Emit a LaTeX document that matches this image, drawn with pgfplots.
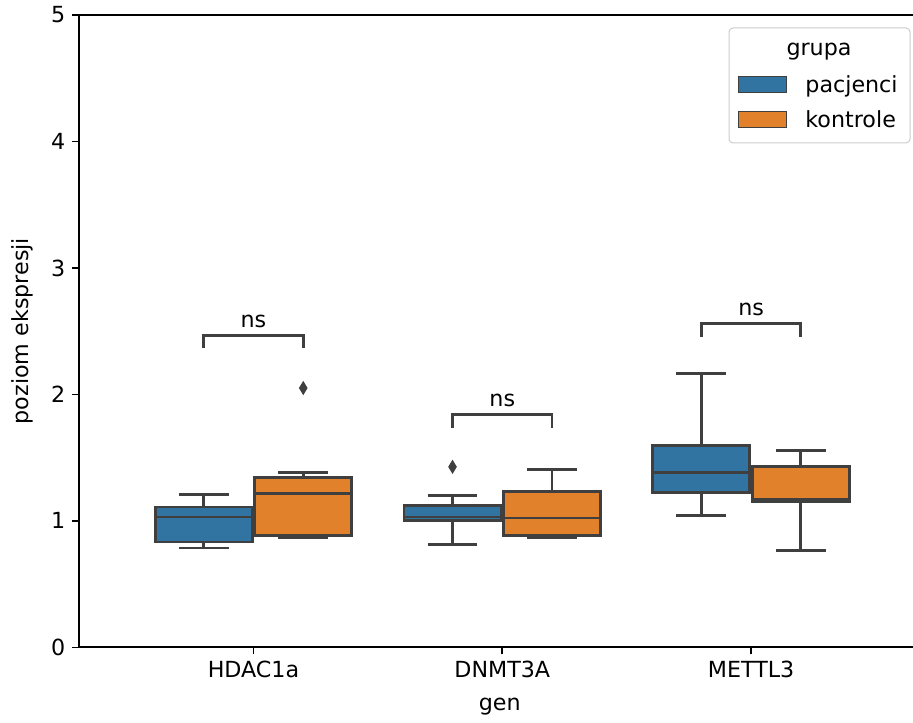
\documentclass[border=0pt]{standalone}
\usepackage{fontspec}
\setmainfont{DejaVu Sans}
\usepackage{pgfplots}
\pgfplotsset{compat=1.18}
\usepgfplotslibrary{statistics}
\definecolor{sbblue}{RGB}{50,116,161}
\definecolor{sborange}{RGB}{225,129,44}
\definecolor{edge}{RGB}{63,63,63}
\definecolor{leggray}{RGB}{204,204,204}
\pgfplotsset{
  bx/.style={
    boxplot/draw direction=y,
    boxplot/box extend=0.39,
    boxplot/whisker extend=0.2,
    draw=edge, line width=1.4pt,
    mark=diamond*, mark size=3.1pt,
    mark options={draw=edge, fill=edge, xscale=0.8, line width=0.5pt},
  },
}
\begin{document}
\begin{tikzpicture}[font=\fontsize{11.1pt}{13pt}\selectfont]
\path[use as bounding box] (-39.65pt,-37.35pt) rectangle (416.85pt,323.65pt);
\begin{axis}[
  at={(0,0)}, anchor=south west,
  scale only axis, width=420.5pt, height=316.15pt,
  xmin=-0.7, xmax=2.68, ymin=0, ymax=5,
  xtick={0,1,2}, xticklabels={HDAC1a,DNMT3A,METTL3},
  ytick={0,1,2,3,4,5},
  xtick pos=bottom, ytick pos=left,
  tick align=outside, major tick length=3.5pt,
  tick style={black, line width=0.8pt},
  axis line style={line width=0.9pt},
  /pgf/number format/assume math mode=true,
  xlabel={gen}, ylabel={poziom ekspresji},
  xlabel style={at={(axis description cs:0.5,0)}, anchor=center, yshift=-29.7pt},
  every axis y label/.style={at={([xshift=-28.65pt]axis description cs:0,0.5)}, rotate=90, anchor=center},
  clip=false,
]
% HDAC1a
\addplot[bx, fill=sbblue, boxplot prepared={draw position=-0.2,
  lower whisker=0.786, lower quartile=0.833, median=1.031, upper quartile=1.110, upper whisker=1.208}]
  coordinates {};
\addplot[bx, fill=sborange, boxplot prepared={draw position=0.2,
  lower whisker=0.865, lower quartile=0.886, median=1.216, upper quartile=1.340, upper whisker=1.382}]
  table[row sep=\\, y index=0] {v\\ 2.050\\};
% DNMT3A
\addplot[bx, fill=sbblue, boxplot prepared={draw position=0.8,
  lower whisker=0.815, lower quartile=1.005, median=1.031, upper quartile=1.123, upper whisker=1.203}]
  table[row sep=\\, y index=0] {v\\ 1.427\\};
\addplot[bx, fill=sborange, boxplot prepared={draw position=1.2,
  lower whisker=0.865, lower quartile=0.886, median=1.023, upper quartile=1.229, upper whisker=1.408}]
  coordinates {};
% METTL3
\addplot[bx, fill=sbblue, boxplot prepared={draw position=1.8,
  lower whisker=1.044, lower quartile=1.224, median=1.382, upper quartile=1.598, upper whisker=2.165}]
  coordinates {};
\addplot[bx, fill=sborange, boxplot prepared={draw position=2.2,
  lower whisker=0.767, lower quartile=1.155, median=1.168, upper quartile=1.427, upper whisker=1.559}]
  coordinates {};
% significance brackets
\draw[edge, line width=1.4pt] (axis cs:-0.2,2.363) -- (axis cs:-0.2,2.463) -- (axis cs:0.2,2.463) -- (axis cs:0.2,2.363);
\node[anchor=base, inner sep=0pt, yshift=4.2pt] at (axis cs:0,2.463) {ns};
\draw[edge, line width=1.4pt] (axis cs:0.8,1.735) -- (axis cs:0.8,1.841) -- (axis cs:1.2,1.841) -- (axis cs:1.2,1.735);
\node[anchor=base, inner sep=0pt, yshift=4.2pt] at (axis cs:1,1.841) {ns};
\draw[edge, line width=1.4pt] (axis cs:1.8,2.455) -- (axis cs:1.8,2.561) -- (axis cs:2.2,2.561) -- (axis cs:2.2,2.455);
\node[anchor=base, inner sep=0pt, yshift=4.2pt] at (axis cs:2,2.561) {ns};
\end{axis}
% legend (image pixel coordinates)
\begin{scope}[shift={(-39.65pt,323.65pt)}, x=0.5pt, y=-0.5pt]
\draw[draw=leggray, fill=white, fill opacity=0.8, rounded corners=2pt, line width=0.5pt] (729,28) rectangle (910,143);
\node[anchor=base, inner sep=0pt] at (819,56) {grupa};
\draw[fill=sbblue, draw=edge, line width=0.6pt] (738.5,76.5) rectangle (786.5,92.5);
\node[anchor=base west, inner sep=0pt] at (805,92.5) {pacjenci};
\draw[fill=sborange, draw=edge, line width=0.6pt] (738.5,111.5) rectangle (786.5,127.5);
\node[anchor=base west, inner sep=0pt] at (805,127.5) {kontrole};
\end{scope}
\end{tikzpicture}
\end{document}
